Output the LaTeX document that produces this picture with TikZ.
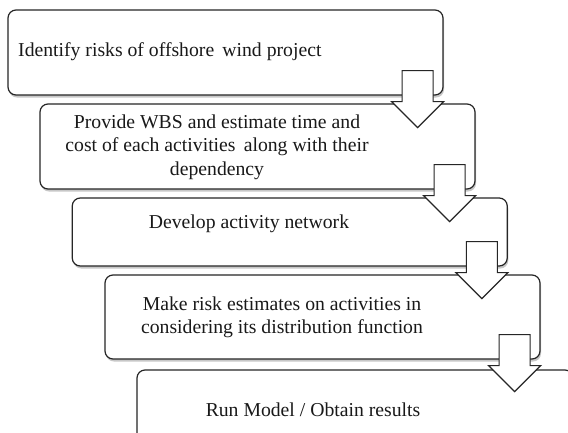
\documentclass[tikz,border=0pt]{standalone}
\usepackage{fontspec}
\setmainfont{Liberation Serif}
\usetikzlibrary{calc,shadows}
\begin{document}
\begin{tikzpicture}[x=1pt,y=-1pt,
  box/.style={draw=black!85, line width=1.2pt, rounded corners=8pt, fill=white,
    drop shadow={shadow xshift=1pt, shadow yshift=-2.5pt, fill=black, opacity=0.22}},
  txt/.style={font=\fontsize{19.7}{23.5}\selectfont, align=center, inner sep=0pt, text=black!90},
  blockarrow/.style={draw=black!85, line width=1.2pt, fill=white, line join=miter}]
\clip (0,0) rectangle (568,432);
\fill[white] (0,0) rectangle (568,432);
% boxes
\node[box, minimum width=435pt, minimum height=85pt] (b1) at (225.5,52.5) {};
\node[box, minimum width=435pt, minimum height=85pt] (b2) at (257.5,146.5) {};
\node[box, minimum width=435pt, minimum height=68pt] (b3) at (289.75,232) {};
\node[box, minimum width=435pt, minimum height=84pt] (b4) at (322.5,317) {};
\node[box, minimum width=436pt, minimum height=84pt] (b5) at (355,412) {};
% block arrows
\foreach \b in {b1,b2,b3,b4}{
  \draw[blockarrow] ($(\b.south east)+(-41.5,-25)$) coordinate (\b-a)
    -- ++(31,0) -- ++(0,31) -- ++(10.5,0) -- ++(-26,26) -- ++(-26,-26) -- ++(10.5,0) -- cycle;
}
% texts
\node[txt, anchor=west] (t1) at (18,52) {Identify risks of offshore\, wind project};
\node[txt] (t2) at (217,147) {Provide WBS and estimate time and\\cost of each activities\, along with their\\dependency};
\node[txt] (t3) at (249,223.5) {Develop activity network};
\node[txt] (t4) at (282,317.5) {Make risk estimates on activities in\\considering its distribution function};
\node[txt] (t5) at (313,410) {Run Model / Obtain results};
\end{tikzpicture}
\end{document}
